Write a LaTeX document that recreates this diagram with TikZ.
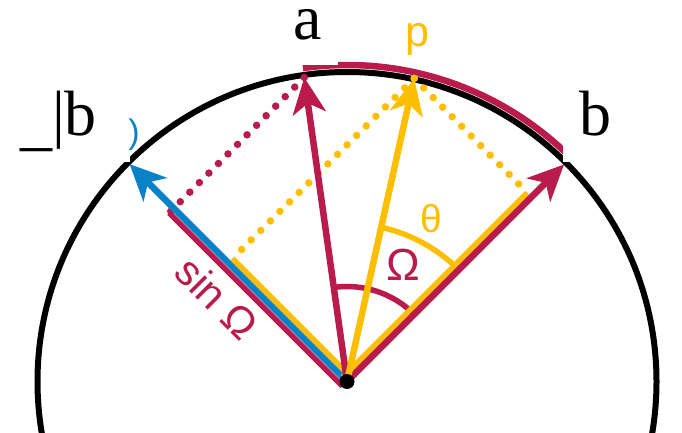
\documentclass[tikz,border=0pt]{standalone}
\usepackage{fontspec}
\setmainfont{Liberation Serif}
\newfontfamily\sansf{Liberation Sans}
\usetikzlibrary{arrows.meta,calc}
\definecolor{cred}{RGB}{184,27,76}
\definecolor{cyel}{RGB}{255,190,0}
\definecolor{cblue}{RGB}{10,130,200}
\begin{document}
\begin{tikzpicture}[x=1pt,y=1pt,
  vec/.style={line width=6.5pt,-{Stealth[length=36pt,width=33pt,inset=10pt]}},
  band/.style={line width=5.5pt},
  dots/.style={line width=7.5pt,line cap=round,dash pattern=on 0pt off 13.5pt},
  lab/.style={inner sep=0pt,outer sep=0pt},
  serifbig/.style={font=\fontsize{64}{64}\selectfont},
]
\useasboundingbox (0,0) rectangle (682,432);
\clip (0,0) rectangle (682,432);
\coordinate (O) at (347,50.5);
\coordinate (A) at ($(O)+(98:307)$);
\coordinate (P) at ($(O)+(77.5:310.5)$);
\coordinate (B) at ($(O)+(45:307)$);
\coordinate (Bp) at ($(O)+(135:307.5)$);
\coordinate (Ra) at ($(O)+(225:6.5)$);
\coordinate (Rb) at ($(O)+(135:245)+(225:6.5)$);
\coordinate (Ya) at ($(O)+(45:6)$);
\coordinate (Yb) at ($(O)+(135:168)+(45:6)$);
\coordinate (Za) at ($(O)+(135:6)$);
\coordinate (Zb) at ($(O)+(45:261)+(135:6)$);
% unit circle
\draw[line width=6pt] (O) circle[radius=309.5];
% great arc a -> b
\draw[cred,line width=6.5pt] ($(O)+(98:316.5)$) arc[start angle=98,end angle=45,radius=316.5];
% angle arcs
\draw[cred,band] ($(O)+(98:95)$) arc[start angle=98,end angle=45,radius=95];
\draw[cyel,band] ($(O)+(77.5:158)$) arc[start angle=77.5,end angle=45,radius=158];
% projections
\draw[cred,dots] (A) -- (Rb);
\draw[cyel,dots] (P) -- (Yb);
\draw[cyel,dots] (P) -- (Zb);
% component bands
\draw[cred,band] (Ra) -- (Rb);
\draw[cblue,vec] (O) -- (Bp);
\draw[cyel,band] (Ya) -- (Yb);
\draw[cyel,band] (Za) -- (Zb);
% vectors
\draw[cred,vec] (O) -- (B);
\draw[cred,vec] (O) -- (A);
\draw[cyel,vec] (O) -- (P);
\node[circle,fill=black,minimum size=15pt,inner sep=0pt] (dot) at (O) {};
% label backgrounds
\fill[white] (280,367) rectangle (338,432);
\fill[white] (563,270.5) rectangle (640,432);
\fill[white] (10,270) rectangle (130,432);
% labels
\node[lab,anchor=base west,serifbig] (la) at (293,392) {a};
\node[lab,anchor=base west,serifbig] (lb) at (579,297) {b};
\node[lab,anchor=base west,serifbig] (lbp) at (20,297) {\raisebox{-8pt}{\_}|b};
\node[lab,text=cblue,font=\sansf\fontsize{34}{34}\selectfont] (paren) at (134,297) {)};
\node[lab,anchor=base west,text=cyel,font=\sansf\fontsize{43}{43}\selectfont] (lp) at (405.5,385) {p};
\node[lab,text=cyel,font=\sansf\fontsize{39}{39}\selectfont] (lth) at (431,213) {θ};
\node[lab,text=cred,font=\sansf\fontsize{45}{45}\selectfont] (lom) at (403,167) {Ω};
\node[lab,text=cred,rotate=-45,font=\sansf\fontsize{42}{42}\selectfont] (lsin) at (217,134) {sin Ω};
\end{tikzpicture}
\end{document}
